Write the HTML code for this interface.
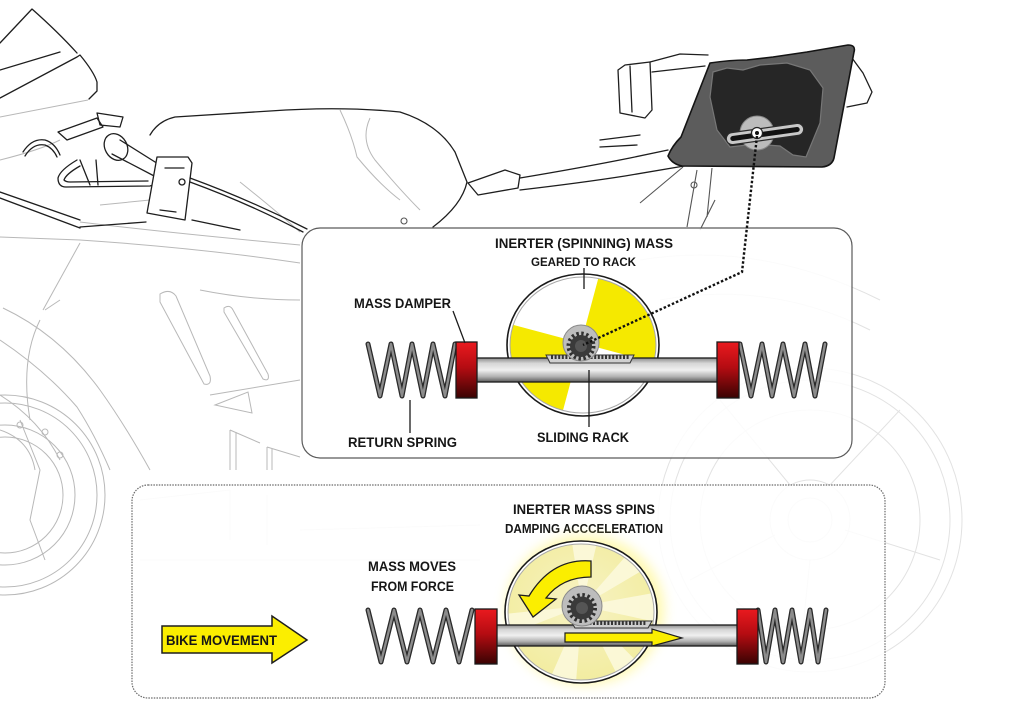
<!DOCTYPE html>
<html><head><meta charset="utf-8">
<style>
html,body{margin:0;padding:0;background:#fff;}
svg{display:block;}
text{font-family:"Liberation Sans Narrow","Liberation Sans",sans-serif;font-weight:bold;fill:#161616;}
</style></head><body>
<svg width="1024" height="723" viewBox="0 0 1024 723" xmlns="http://www.w3.org/2000/svg">
<defs>
 <linearGradient id="red" x1="0" y1="0" x2="0" y2="1">
  <stop offset="0" stop-color="#ea1a1f"/><stop offset="0.45" stop-color="#b50c12"/><stop offset="1" stop-color="#3a0303"/>
 </linearGradient>
 <linearGradient id="rod" x1="0" y1="0" x2="0" y2="1">
  <stop offset="0" stop-color="#8a8a8a"/><stop offset="0.22" stop-color="#d6d6d6"/><stop offset="0.5" stop-color="#f0f0f0"/><stop offset="0.78" stop-color="#b0b0b0"/><stop offset="1" stop-color="#5a5a5a"/>
 </linearGradient>
 <radialGradient id="pale" cx="0.5" cy="0.45" r="0.6">
  <stop offset="0" stop-color="#f7f3c4"/><stop offset="1" stop-color="#f2ec9e"/>
 </radialGradient>
 <clipPath id="w1"><ellipse cx="583" cy="345" rx="73" ry="68"/></clipPath>
 <clipPath id="w2"><ellipse cx="581" cy="612" rx="73" ry="68"/></clipPath>
 <filter id="blur" x="-30%" y="-30%" width="160%" height="160%"><feGaussianBlur stdDeviation="6"/></filter>
</defs>

<!-- ============ BACKGROUND BIKE (light) ============ -->
<g fill="none" stroke="#e2e2e2" stroke-width="1">
 <circle cx="810" cy="520" r="152"/>
 <circle cx="810" cy="520" r="140"/>
 <circle cx="810" cy="520" r="110"/>
 <circle cx="810" cy="520" r="40"/>
 <circle cx="810" cy="520" r="22"/>
 <path d="M790 485 L720 400 M830 485 L900 410 M845 530 L940 560 M810 560 L800 655 M775 535 L690 580"/>
 <path d="M640 260 Q760 240 880 300 M660 300 Q770 280 870 330"/>
 <path d="M230 490 L230 540 M267 495 L267 545 M140 500 L230 490 M300 530 L480 525 M140 560 L480 560"/>
</g>
<g fill="none" stroke="#b8b8b8" stroke-width="1">
 <path d="M0 237 L80 240 Q200 248 300 263"/>
 <path d="M80 243 L43 310"/>
 <path d="M0 117 L88 100"/>
 <path d="M80 222 Q160 232 300 245"/>
 <path d="M3 308 Q60 335 100 390 Q125 425 150 470"/>
 <path d="M0 340 Q45 370 77 407 Q95 435 110 470"/>
 <path d="M0 395 Q40 420 60 460"/>
 <path d="M160 294 Q170 288 176 296 L210 376 Q212 386 204 384 L160 302 Z"/>
 <path d="M224 308 Q230 304 233 310 L268 374 Q270 382 263 379 L224 312 Z"/>
 <path d="M215 405 L248 392 L252 413 Z"/>
 <path d="M230 430 L230 470 M236 432 L236 470 M230 430 L260 443 M267 447 L267 470 M272 449 L272 470 M267 447 L300 457"/>
 <path d="M200 290 Q250 300 300 300 M210 395 L300 380"/>
 <circle cx="5" cy="495" r="100"/>
 <circle cx="5" cy="495" r="92"/>
 <circle cx="5" cy="495" r="70"/>
 <circle cx="5" cy="495" r="58"/>
 <circle cx="20" cy="425" r="3"/><circle cx="45" cy="432" r="3"/><circle cx="60" cy="455" r="3"/>
 <path d="M20 420 L40 470 L30 520 L45 560 M0 430 Q30 440 35 470"/>
 <path d="M45 310 L60 300 M40 320 Q20 360 30 420"/>
 <path d="M340 110 Q352 135 357 157 Q380 185 400 200"/>
 <path d="M370 118 Q360 140 375 160 Q400 190 420 210"/>
 <path d="M240 182 Q275 210 300 232 M100 205 L150 200"/>
 <path d="M0 160 Q40 150 60 140"/>
</g>

<!-- ============ BACKGROUND BIKE (dark) ============ -->
<g fill="none" stroke="#1e1e1e" stroke-width="1.3" stroke-linejoin="round" stroke-linecap="round">
 <path d="M0 43 L32 9 Q58 32 77 53"/>
 <path d="M0 98 L77 57 L80 55 Q94 72 97 82 L97 91 L89 99"/>
 <path d="M0 70 L60 52"/>
 <path d="M0 192 L80 220 M0 198 L80 228"/>
 <path d="M58 132 L97 118 L103 127 L67 140 Z"/>
 <path d="M97 113 L123 117 L120 127 L100 125 Z"/>
 <path d="M23 152 Q32 138 45 140 Q55 143 60 155 M25 156 Q33 143 45 145 Q53 148 57 157"/>
 <ellipse cx="116" cy="147" rx="11" ry="14" transform="rotate(-30 116 147)" fill="#fff"/>
 <path d="M120 140 L163 167 M112 154 L158 178" />
 <circle cx="161" cy="173" r="5" fill="#fff"/>
 <path d="M77 160 Q60 170 58 178 Q58 187 66 187 L150 186 Q157 184 157 178"/>
 <path d="M80 166 Q66 174 64 180 Q66 182 70 182 L148 181"/>
 <path d="M80 160 L90 185 M96 160 L98 185"/>
 <path d="M157 157 L188 157 L192 163 L185 220 L147 213 Z" fill="#fff"/>
 <path d="M165 168 L184 168 M160 210 L176 212"/>
 <circle cx="182" cy="182" r="3"/>
 <path d="M190 178 Q250 200 307 229 M190 182 Q250 204 303 232"/>
 <path d="M150 135 Q158 121 175 117 L270 111 Q340 106 400 112 Q438 124 455 152 L467 182 Q462 205 433 227"/>
 <path d="M80 227 L146 222 M192 220 L240 230"/>
 <path d="M468 183 L505 170 L520 175 L518 188 L478 195 Z"/>
 <path d="M520 178 Q580 168 630 158 L668 150"/>
 <path d="M520 190 Q580 183 625 176 L690 165"/>
 <path d="M600 140 L640 135 M600 147 L637 145"/>
 <path d="M625 65 L650 62 L652 110 L645 118 L620 113 L618 70 Z" fill="#fff"/>
 <path d="M630 66 L632 112"/>
 <path d="M650 62 L680 54 L708 55 M652 72 L705 66"/>
 <path d="M852 58 L863 73 L872 92 L867 103 L847 107" fill="#fff"/>
</g>
<g fill="none" stroke="#555" stroke-width="1.1">
 <path d="M640 203 L683 167 M687 227 L697 170 M707 217 L712 168 M700 230 L715 200"/>
 <circle cx="404" cy="221" r="3"/><circle cx="694" cy="185" r="3"/>
</g>

<!-- ============ TOP BOX ============ -->
<rect x="302" y="228" width="550" height="230" rx="18" ry="18" fill="#fff" fill-opacity="0.86" stroke="#5a5a5a" stroke-width="1.2"/>

<ellipse cx="583" cy="345" rx="76" ry="71" fill="#fff" stroke="#1a1a1a" stroke-width="1.6"/>
<g clip-path="url(#w1)" fill="#f5e900">
 <polygon points="581,343 612,227 666,258 697,312 697,374"/>
 <polygon points="581,343 550,459 496,428 465,374 465,312"/>
</g>
<ellipse cx="583" cy="345" rx="73" ry="68" fill="none" stroke="#a8a8a8" stroke-width="1"/>

<g fill="none" stroke-linejoin="round" stroke-linecap="round">
 <polyline points="368,344 380,396 391,344 402,396 412,344 423,396 433,344 445,396 455,344" stroke="#2a2a2a" stroke-width="5"/>
 <polyline points="368,344 380,396 391,344 402,396 412,344 423,396 433,344 445,396 455,344" stroke="#8c8c8c" stroke-width="2.4"/>
 <polyline points="740,344 751,396 762,344 772,396 783,344 794,396 805,344 815,396 825,344" stroke="#2a2a2a" stroke-width="5"/>
 <polyline points="740,344 751,396 762,344 772,396 783,344 794,396 805,344 815,396 825,344" stroke="#8c8c8c" stroke-width="2.4"/>
</g>

<rect x="476" y="358" width="242" height="24" fill="url(#rod)" stroke="#1a1a1a" stroke-width="1.3"/>
<path d="M546 355 L634 355 L630 363 L550 363 Z" fill="#cfcfcf" stroke="#333" stroke-width="1"/>
<line x1="551" y1="357" x2="629" y2="357" stroke="#333" stroke-width="4" stroke-dasharray="2 1.6"/>
<circle cx="581" cy="343" r="18" fill="#bdbdbd" stroke="#8a8a8a" stroke-width="1"/>
<circle cx="581" cy="346" r="12.5" fill="none" stroke="#303030" stroke-width="4" stroke-dasharray="2.4 2.5"/>
<circle cx="581" cy="346" r="11" fill="#3a3a3a"/>
<circle cx="581" cy="346" r="6" fill="#555"/>

<rect x="456" y="342" width="21" height="56" fill="url(#red)" stroke="#1a1a1a" stroke-width="1.3"/>
<rect x="717" y="342" width="22" height="56" fill="url(#red)" stroke="#1a1a1a" stroke-width="1.3"/>

<g stroke="#1a1a1a" stroke-width="1.3">
 <line x1="453" y1="311" x2="465" y2="343"/>
 <line x1="410" y1="400" x2="410" y2="433"/>
 <line x1="584" y1="268" x2="584" y2="289"/>
 <line x1="589" y1="370" x2="589" y2="427"/>
</g>

<text x="495" y="248" font-size="14" textLength="178" lengthAdjust="spacingAndGlyphs">INERTER (SPINNING) MASS</text>
<text x="531" y="266" font-size="12" textLength="105" lengthAdjust="spacingAndGlyphs">GEARED TO RACK</text>
<text x="354" y="308" font-size="13.5" textLength="97" lengthAdjust="spacingAndGlyphs">MASS DAMPER</text>
<text x="348" y="447" font-size="13.5" textLength="109" lengthAdjust="spacingAndGlyphs">RETURN SPRING</text>
<text x="537" y="442" font-size="13.5" textLength="92" lengthAdjust="spacingAndGlyphs">SLIDING RACK</text>

<!-- ============ BOTTOM BOX ============ -->
<rect x="132" y="485" width="753" height="213" rx="16" ry="16" fill="#fff" fill-opacity="0.86" stroke="#6a6a6a" stroke-width="1.2" stroke-dasharray="1.5 1.2"/>

<polygon points="162,626 272,626 272,616 307,640 272,663 272,653 162,653" fill="#fbee00" stroke="#1e1e1e" stroke-width="1.5" stroke-linejoin="miter"/>
<text x="166" y="645" font-size="13.5" textLength="111" lengthAdjust="spacingAndGlyphs">BIKE MOVEMENT</text>

<text x="368" y="571" font-size="13.5" textLength="88" lengthAdjust="spacingAndGlyphs">MASS MOVES</text>
<text x="371" y="591" font-size="13.5" textLength="83" lengthAdjust="spacingAndGlyphs">FROM FORCE</text>
<text x="513" y="514" font-size="13.5" textLength="142" lengthAdjust="spacingAndGlyphs">INERTER MASS SPINS</text>
<text x="505" y="533" font-size="12.5" textLength="158" lengthAdjust="spacingAndGlyphs">DAMPING ACCCELERATION</text>

<ellipse cx="585" cy="610" rx="79" ry="75" fill="#fff470" opacity="0.55" filter="url(#blur)"/>
<ellipse cx="581" cy="612" rx="76" ry="71" fill="#fff" stroke="#1a1a1a" stroke-width="1.6"/>
<g clip-path="url(#w2)">
 <ellipse cx="581" cy="612" rx="73" ry="68" fill="url(#pale)"/>
 <g fill="#fcfadf" opacity="0.85">
  <polygon points="582,606 570,530 600,530"/>
  <polygon points="582,606 670,590 670,625"/>
  <polygon points="582,606 545,690 575,695"/>
  <polygon points="582,606 495,640 495,615"/>
  <polygon points="582,606 640,540 660,560"/>
  <polygon points="582,606 625,690 650,675"/>
 </g>
</g>
<ellipse cx="581" cy="612" rx="73" ry="68" fill="none" stroke="#a8a8a8" stroke-width="1"/>

<path d="M591 561 Q552 558 529 596 L519 595 L533 617 L556 599 L546 598 Q562 577 591 577 Z" fill="#fbee00" stroke="#1e1e1e" stroke-width="1.3" stroke-linejoin="miter"/>

<g fill="none" stroke-linejoin="round" stroke-linecap="round">
 <polyline points="368,610 381,662 394,610 407,662 420,610 433,662 446,610 459,662 472,610" stroke="#2a2a2a" stroke-width="5"/>
 <polyline points="368,610 381,662 394,610 407,662 420,610 433,662 446,610 459,662 472,610" stroke="#8c8c8c" stroke-width="2.4"/>
 <polyline points="758,610 766,662 775,610 783,662 792,610 801,662 810,610 818,662 826,610" stroke="#2a2a2a" stroke-width="5"/>
 <polyline points="758,610 766,662 775,610 783,662 792,610 801,662 810,610 818,662 826,610" stroke="#8c8c8c" stroke-width="2.4"/>
</g>

<rect x="496" y="625" width="242" height="21" fill="url(#rod)" stroke="#1a1a1a" stroke-width="1.3"/>
<path d="M571 621 L652 621 L648 628 L575 628 Z" fill="#cfcfcf" stroke="#333" stroke-width="1"/>
<line x1="575" y1="623" x2="647" y2="623" stroke="#333" stroke-width="4" stroke-dasharray="2 1.6"/>
<polygon points="565,633 652,633 652,629 682,638 652,646 652,642 565,642" fill="#fbee00" stroke="#1e1e1e" stroke-width="1.2"/>
<circle cx="582" cy="606" r="20" fill="#bdbdbd" stroke="#8a8a8a" stroke-width="1"/>
<circle cx="582" cy="608" r="13" fill="none" stroke="#303030" stroke-width="4" stroke-dasharray="2.5 2.6"/>
<circle cx="582" cy="608" r="11.5" fill="#3a3a3a"/>
<circle cx="582" cy="608" r="6" fill="#555"/>

<rect x="475" y="609" width="22" height="55" fill="url(#red)" stroke="#1a1a1a" stroke-width="1.3"/>
<rect x="737" y="609" width="21" height="55" fill="url(#red)" stroke="#1a1a1a" stroke-width="1.3"/>

<!-- ============ SEAT UNIT PANEL ============ -->
<path d="M668 156 Q672 146 681 137 L710 63 Q730 60 747 60 L773 57 L807 52 L848 45 Q856 45 854 52 L834 158 Q832 166 822 167 L682 166 Q672 164 668 156 Z" fill="#5c5c5c" stroke="#141414" stroke-width="1.6" stroke-linejoin="round"/>
<path d="M713 72 L727 68 L743 70 L760 65 L787 63 L810 70 L823 88 L820 123 L806 157 L793 155 L780 146 L767 145 L747 145 L730 147 L717 130 L710 97 Z" fill="#262626" stroke="#777" stroke-width="1.2"/>
<circle cx="757" cy="133" r="17" fill="#bcbcbc" stroke="#888" stroke-width="1"/>
<g transform="rotate(-8 765 134)">
 <rect x="726" y="128" width="78" height="12" rx="6" fill="#c8c8c8" stroke="#2a2a2a" stroke-width="1.2"/>
 <rect x="730" y="131.5" width="70" height="5" rx="2.5" fill="#111"/>
</g>
<circle cx="757" cy="133" r="5.5" fill="#fff" stroke="#222" stroke-width="1.2"/>
<circle cx="757" cy="133" r="2" fill="#111"/>

<polyline points="757,136 742,272 583,345" fill="none" stroke="#111" stroke-width="2.4" stroke-dasharray="2.5 2"/>
</svg>
</body></html>
